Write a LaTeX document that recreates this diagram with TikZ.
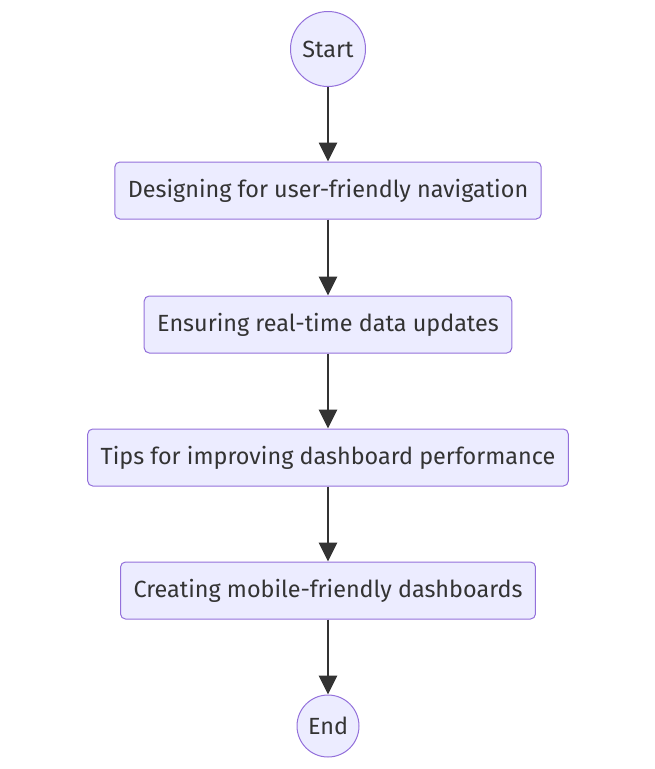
\documentclass[tikz,border=0pt]{standalone}
\usepackage{fontspec}
\setmainfont{Fira Sans}
\usepackage{tikz}
\usetikzlibrary{arrows.meta, positioning}
\definecolor{FlowFill}{HTML}{ECECFF}
\definecolor{FlowBorder}{HTML}{9370DB}
\definecolor{FlowText}{HTML}{333333}
\definecolor{FlowLine}{HTML}{333333}

\tikzset{
  stepbox/.style={
    rounded corners=5pt, fill=FlowFill, draw=FlowBorder,
    line width=1pt, minimum height=57pt, inner xsep=13pt,
    text=FlowText, font=\fontsize{23.4pt}{28pt}\selectfont
  },
  endpoint/.style={
    circle, fill=FlowFill, draw=FlowBorder, line width=1pt,
    text=FlowText, font=\fontsize{23.4pt}{28pt}\selectfont, inner sep=0pt
  },
  flow/.style={
    draw=FlowLine, line width=2.7pt,
    -{Triangle[length=19pt, width=18pt]}
  }
}

\begin{document}
\begin{tikzpicture}[x=1pt, y=-1pt]
    \useasboundingbox (0,0) rectangle (655,769);

    \node[endpoint, minimum size=75pt] (start) at (328,49) {Start};
    \node[stepbox, minimum width=425pt] (nav) at (328,190.5) {Designing for user-friendly navigation};
    \node[stepbox, minimum width=367pt] (realtime) at (328,324.5) {Ensuring real-time data updates};
    \node[stepbox, minimum width=479pt] (perf) at (328,457.5) {Tips for improving dashboard performance};
    \node[stepbox, minimum width=413pt] (mobile) at (328,590.5) {Creating mobile-friendly dashboards};
    \node[endpoint, minimum size=62pt] (finish) at (328,726) {End};

    \draw[flow] (start) -- (nav);
    \draw[flow] (nav) -- (realtime);
    \draw[flow] (realtime) -- (perf);
    \draw[flow] (perf) -- (mobile);
    \draw[flow] (mobile) -- (finish);
\end{tikzpicture}
\end{document}
